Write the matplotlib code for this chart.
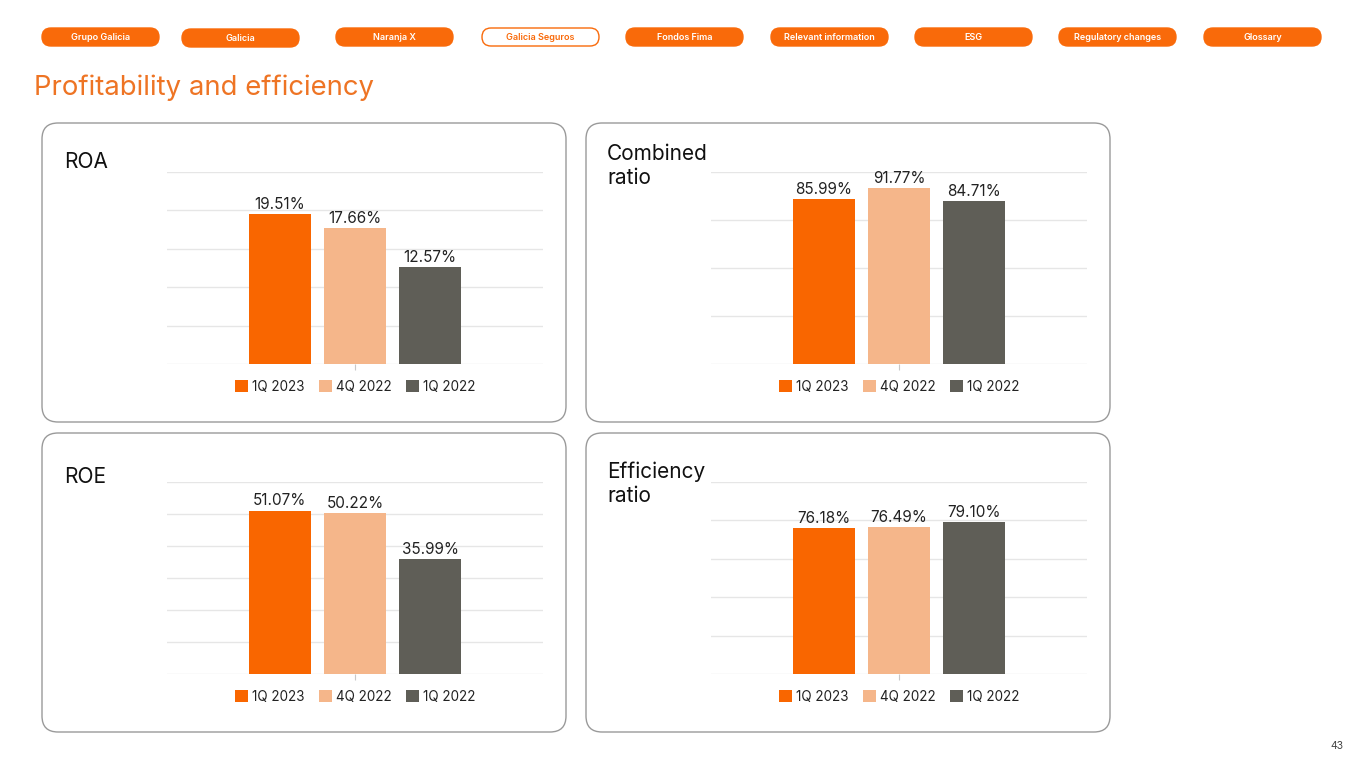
import matplotlib
matplotlib.use('Agg')
import matplotlib.pyplot as plt
from matplotlib.patches import FancyBboxPatch, Patch
import numpy as np

plt.rcParams['font.family'] = ['Inter', 'DejaVu Sans']

# ---------------- data ----------------
series = ['1Q 2023', '4Q 2022', '1Q 2022']
roa = [19.51, 17.66, 12.57]
combined_ratio = [85.99, 91.77, 84.71]
roe = [51.07, 50.22, 35.99]
efficiency_ratio = [76.18, 76.49, 79.10]
panel_titles = ['ROA', 'Combined\nratio', 'ROE', 'Efficiency\nratio']
y_max = [25, 100, 60, 100]
y_step = [5, 25, 10, 20]
nav_labels = ['Grupo Galicia', 'Galicia', 'Naranja X', 'Galicia Seguros', 'Fondos Fima',
              'Relevant information', 'ESG', 'Regulatory changes', 'Glossary']
active_nav = 'Galicia Seguros'
page_title = 'Profitability and efficiency'
page_number = '43'

# ---------------- style ----------------
colors = ['#F96600', '#F5B68A', '#5F5E57']
ORANGE = '#F96A0A'
TITLE_ORANGE = '#EE7424'
W, H = 1365, 768

fig = plt.figure(figsize=(W / 100, H / 100), dpi=100)
bg = fig.add_axes([0, 0, 1, 1])
bg.set_xlim(0, W)
bg.set_ylim(H, 0)
bg.axis('off')

# nav pills
pill_x = [42, 182, 336, 482, 626, 771, 915, 1059, 1204]
pill_y = [28, 29, 28, 28, 28, 28, 28, 28, 28]
pill_w, pill_h = 117, 18
for lab, px, py in zip(nav_labels, pill_x, pill_y):
    active = lab == active_nav
    bg.add_patch(FancyBboxPatch((px, py), pill_w, pill_h,
                                boxstyle='round,pad=0,rounding_size=9',
                                facecolor='white' if active else ORANGE,
                                edgecolor=ORANGE, lw=1.0))
    bg.text(px + pill_w / 2, py + pill_h / 2 + 0.5, lab, ha='center', va='center',
            fontsize=6.5, fontweight='semibold',
            color=ORANGE if active else 'white')

bg.text(34, 95, page_title, fontsize=19.8, color=TITLE_ORANGE, va='baseline')
bg.text(1343, 749, page_number, fontsize=7.5, color='#444444', ha='right', va='baseline')

panels = [
    ((42, 123, 566, 422), (167, 172, 543, 364), roa, (64, 168)),
    ((586, 123, 1110, 422), (711, 172, 1087, 364), combined_ratio, (607, 160)),
    ((42, 433, 566, 732), (167, 482, 543, 674), roe, (64, 483)),
    ((586, 433, 1110, 732), (711, 482, 1087, 674), efficiency_ratio, (607, 478)),
]

offsets = [-0.2, 0.0, 0.2]
for i, (box, axr, vals, tpos) in enumerate(panels):
    x0, y0, x1, y1 = box
    bg.add_patch(FancyBboxPatch((x0, y0), x1 - x0, y1 - y0,
                                boxstyle='round,pad=0,rounding_size=16',
                                facecolor='white', edgecolor='#9a9a9a', lw=1.0))
    for j, line in enumerate(panel_titles[i].split('\n')):
        bg.text(tpos[0], tpos[1] + j * 24, line, fontsize=15, color='#111111',
                va='baseline')

    ax0, ay0, ax1, ay1 = axr
    ax = fig.add_axes([ax0 / W, 1 - ay1 / H, (ax1 - ax0) / W, (ay1 - ay0) / H])
    ax.set_facecolor('none')
    ax.set_xlim(-0.5, 0.5)
    ax.set_ylim(0, y_max[i])
    ax.set_yticks(np.arange(0, y_max[i] + y_step[i] / 2, y_step[i]))
    ax.yaxis.grid(True, color='#E6E6E6', lw=1)
    ax.set_axisbelow(True)
    ax.tick_params(axis='y', length=0, labelleft=False)
    ax.set_xticks([0])
    ax.set_xticklabels([])
    ax.tick_params(axis='x', length=4, color='#C8C8C8', width=0.8)
    for s in ax.spines.values():
        s.set_visible(False)
    for off, v, c in zip(offsets, vals, colors):
        ax.bar(off, v, width=0.164, color=c, zorder=3)
        ax.annotate(f'{v:.2f}%', (off, v), xytext=(0, 1.5), textcoords='offset points',
                    ha='center', va='bottom', fontsize=11, color='#222222')
    handles = [Patch(facecolor=c) for c in colors]
    ax.legend(handles, series, loc='upper center', bbox_to_anchor=(0.5, -0.083),
              ncol=3, frameon=False, fontsize=9.7, handlelength=0.97,
              handleheight=0.97, handletextpad=0.3, columnspacing=1.05,
              borderpad=0, borderaxespad=0, labelcolor='#222222')

fig.savefig('out.png', dpi=100)
